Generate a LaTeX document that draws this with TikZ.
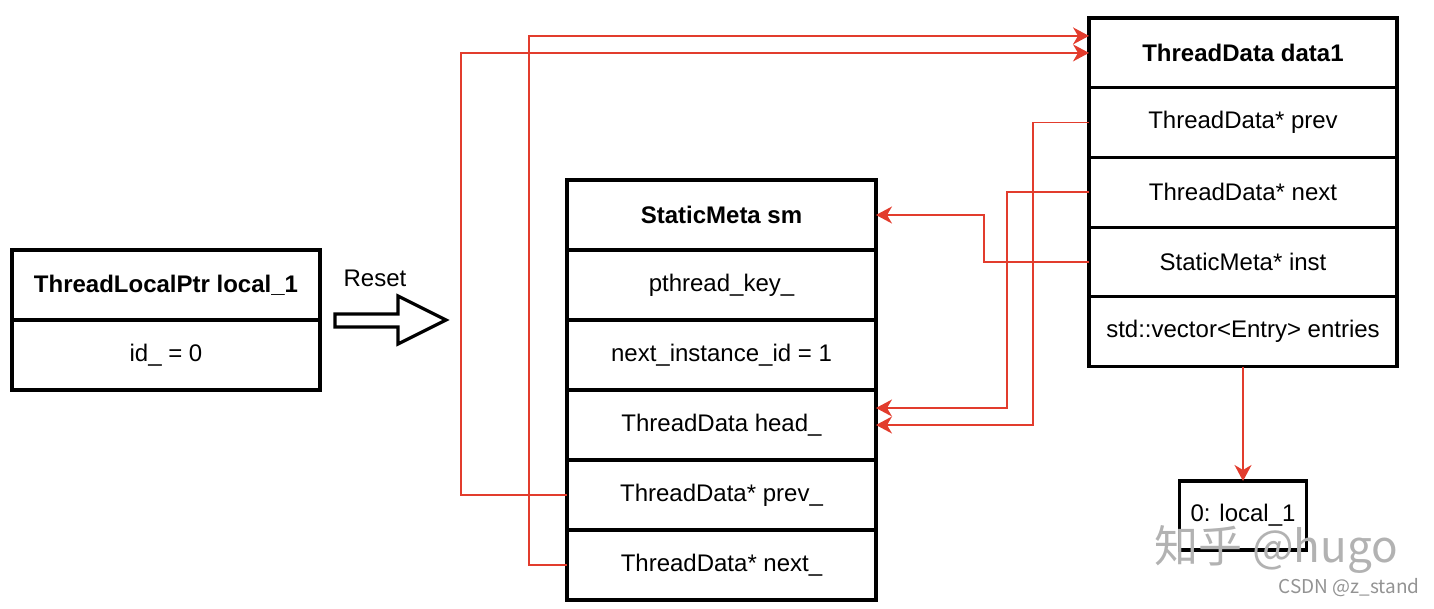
\documentclass[tikz,border=0pt]{standalone}
\usepackage{fontspec}
\setmainfont{Liberation Sans}
\newfontfamily\cjk{Noto Sans CJK SC}
\usepackage{xcolor}
\usetikzlibrary{positioning, arrows.meta}

\definecolor{ptrred}{RGB}{226,60,45}

\begin{document}
\begin{tikzpicture}[
        x=1pt, y=-1pt,
        declare function={
            LeftX = 166;
            MetaX = 721.5;
            DataX = 1243;
        },
        field/.style={draw, line width=3.2pt, minimum width=308pt, minimum height=70pt,
            inner sep=0pt, outer sep=0pt, font=\fontsize{24}{28}\selectfont},
        title/.style={field, font=\fontsize{24}{28}\selectfont\bfseries},
        datafield/.style={field, minimum height=69.7pt},
        ptr/.style={draw=ptrred, line width=1.7pt, -{Stealth[length=16pt, width=17pt, inset=5pt]}}
    ]

        \useasboundingbox (0,0) rectangle (1434,608);

        \node[title] (lpttitle) at (LeftX, 285) {ThreadLocalPtr local\_1};
        \node[field, below=0pt of lpttitle] (lptid) {id\_ = 0};

        \node[font=\fontsize{24}{28}\selectfont] (resetlbl) at (375, 278) {Reset};
        \draw[line width=3.2pt, line join=miter] (335,314) -- (398,314) -- (398,296) -- (446,320)
            -- (398,344) -- (398,327) -- (335,327) -- cycle;

        \node[title, minimum width=309pt] (smtitle) at (MetaX, 215) {StaticMeta sm};
        \node[field, minimum width=309pt, below=0pt of smtitle] (smkey) {pthread\_key\_};
        \node[field, minimum width=309pt, below=0pt of smkey] (smnextid) {next\_instance\_id = 1};
        \node[field, minimum width=309pt, below=0pt of smnextid] (smhead) {ThreadData head\_};
        \node[field, minimum width=309pt, below=0pt of smhead] (smprev) {ThreadData* prev\_};
        \node[field, minimum width=309pt, below=0pt of smprev] (smnext) {ThreadData* next\_};

        \node[title, minimum height=69.7pt] (dtitle) at (DataX, 52.9) {ThreadData data1};
        \node[datafield, below=0pt of dtitle] (dprev) {ThreadData* prev};
        \node[datafield, below=0pt of dprev] (dnext) {ThreadData* next};
        \node[datafield, below=0pt of dnext] (dinst) {StaticMeta* inst};
        \node[datafield, below=0pt of dinst] (dentries) {std::vector<Entry> entries};

        \node[field, minimum width=127pt, minimum height=69pt] (entry) at (DataX, 515.5) {0: local\_1};

        \draw[ptr] (smprev.west) -- ++(-106,0) |- (dtitle.west);
        \draw[ptr] (smnext.west) -- ++(-38,0) |- ([yshift=17pt]dtitle.west);
        \draw[ptr] (dprev.west) -- ++(-56,0) |- (smhead.east);
        \draw[ptr] (dnext.west) -- ++(-82,0) |- ([yshift=17pt]smhead.east);
        \draw[ptr] (dinst.west) -- ++(-105,0) |- (smtitle.east);
        \draw[ptr] (dentries.south) -- (entry.north);

        \node[text=gray!60, font=\cjk\fontsize{44}{50}\selectfont] (wmzhihu) at (1276, 549) {知乎 @hugo};
        \node[text=gray!85, font=\cjk\fontsize{19}{22}\selectfont] (wmcsdn) at (1349, 588) {CSDN @z\_stand};
    \end{tikzpicture}
\end{document}
